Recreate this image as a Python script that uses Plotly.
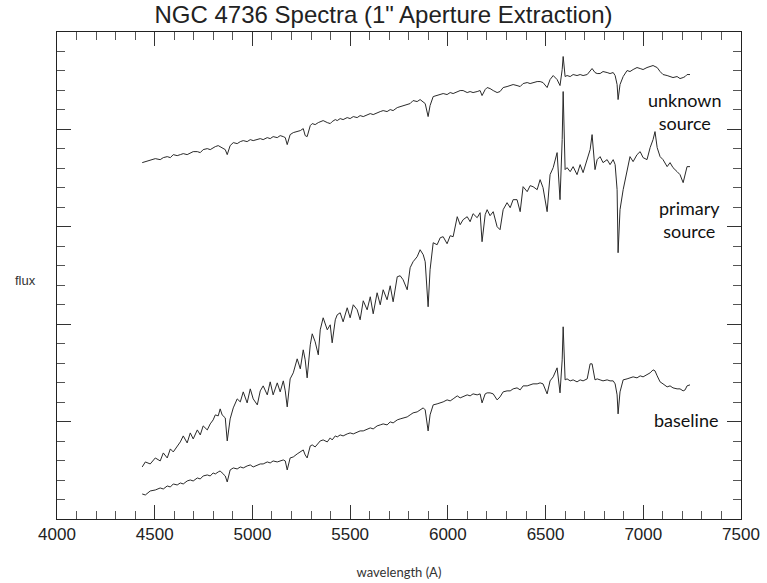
import plotly.graph_objects as go

# Wavelength grid (Angstrom)
wavelength = [
    4436, 4452, 4477, 4503, 4528, 4544, 4564, 4580, 4595, 4615,
    4631, 4646, 4666, 4682, 4697, 4718, 4733, 4748, 4769, 4784,
    4799, 4810, 4825, 4835, 4845, 4861, 4871, 4886, 4902, 4922,
    4938, 4953, 4973, 4989, 5004, 5025, 5040, 5055, 5076, 5091,
    5106, 5127, 5142, 5158, 5168, 5178, 5193, 5209, 5229, 5245,
    5260, 5270, 5280, 5296, 5306, 5321, 5337, 5347, 5362, 5383,
    5398, 5408, 5424, 5434, 5449, 5464, 5485, 5500, 5516, 5536,
    5551, 5567, 5587, 5603, 5618, 5638, 5654, 5669, 5689, 5705,
    5720, 5741, 5756, 5771, 5792, 5807, 5822, 5843, 5858, 5874,
    5884, 5899, 5909, 5925, 5945, 5961, 5976, 5996, 6012, 6027,
    6048, 6063, 6078, 6099, 6114, 6129, 6150, 6165, 6175, 6191,
    6201, 6216, 6232, 6252, 6267, 6283, 6303, 6319, 6334, 6354,
    6370, 6385, 6406, 6421, 6436, 6457, 6472, 6487, 6508, 6523,
    6539, 6559, 6574, 6585, 6590, 6600, 6610, 6626, 6641, 6661,
    6677, 6692, 6713, 6728, 6738, 6753, 6764, 6779, 6794, 6815,
    6830, 6846, 6856, 6866, 6871, 6881, 6897, 6917, 6932, 6948,
    6968, 6984, 6999, 7019, 7035, 7050, 7060, 7071, 7086, 7101,
    7122, 7137, 7152, 7173, 7188, 7204, 7214, 7224, 7239,
]

# Flux (arbitrary units, offset spectra)
flux_baseline = [
    25, 24, 28, 29, 31, 30, 33, 32, 35, 34,
    36, 35, 38, 39, 38, 41, 40, 43, 44, 43,
    46, 45, 47, 48, 46, 43, 37, 49, 51, 50,
    52, 51, 53, 54, 52, 54, 55, 55, 57, 56,
    58, 57, 58, 59, 58, 49, 61, 62, 65, 67,
    69, 64, 61, 73, 74, 72, 76, 78, 79, 77,
    81, 79, 83, 82, 84, 83, 85, 86, 85, 87,
    88, 88, 90, 91, 90, 93, 94, 95, 94, 97,
    96, 99, 100, 101, 102, 104, 106, 107, 109, 111,
    109, 88, 104, 114, 115, 116, 117, 119, 118, 120,
    123, 121, 122, 124, 123, 125, 124, 125, 116, 125,
    126, 126, 125, 119, 122, 127, 128, 128, 130, 131,
    129, 133, 133, 134, 135, 135, 136, 135, 125, 138,
    142, 151, 126, 159, 192, 139, 140, 138, 139, 137,
    139, 138, 140, 155, 155, 139, 140, 139, 138, 139,
    138, 138, 135, 124, 105, 127, 139, 140, 141, 142,
    141, 143, 142, 144, 146, 149, 148, 143, 137, 135,
    132, 133, 131, 130, 130, 128, 129, 133, 134,
]

flux_primary = [
    52, 57, 55, 61, 58, 66, 61, 70, 67, 73,
    77, 83, 76, 86, 80, 89, 84, 93, 89, 95,
    99, 104, 103, 110, 104, 101, 78, 100, 111, 120,
    117, 127, 116, 130, 120, 114, 128, 133, 124, 137,
    124, 136, 127, 138, 128, 112, 140, 146, 160, 150,
    169, 159, 141, 174, 185, 177, 164, 189, 201, 189,
    194, 176, 199, 204, 206, 197, 211, 201, 214, 209,
    199, 218, 209, 222, 205, 226, 214, 229, 219, 233,
    217, 242, 243, 239, 229, 251, 257, 262, 269, 264,
    257, 212, 249, 276, 274, 281, 282, 275, 283, 282,
    302, 294, 299, 302, 297, 305, 301, 306, 277, 304,
    309, 303, 307, 292, 289, 309, 316, 311, 319, 319,
    307, 332, 327, 333, 332, 329, 339, 331, 307, 344,
    351, 366, 319, 379, 427, 349, 351, 347, 352, 344,
    354, 346, 359, 369, 384, 349, 359, 362, 356, 359,
    354, 359, 354, 329, 266, 309, 329, 349, 362, 357,
    364, 367, 361, 359, 371, 379, 387, 371, 362, 359,
    352, 356, 351, 347, 344, 336, 344, 352, 352,
]

flux_unknown = [
    356, 357, 358, 360, 359, 361, 362, 361, 364, 363,
    364, 365, 364, 366, 367, 367, 366, 369, 370, 369,
    371, 372, 373, 372, 371, 369, 364, 373, 376, 375,
    377, 378, 377, 379, 378, 379, 380, 379, 381, 380,
    382, 381, 383, 382, 381, 374, 384, 386, 387, 388,
    390, 383, 382, 393, 395, 394, 396, 397, 398, 396,
    395, 397, 399, 398, 400, 399, 401, 400, 402, 401,
    403, 402, 404, 405, 404, 406, 407, 408, 407, 409,
    408, 411, 412, 413, 414, 415, 418, 417, 419, 417,
    415, 402, 413, 422, 423, 424, 425, 424, 426, 425,
    427, 428, 428, 426, 427, 426, 427, 428, 423, 429,
    431, 430, 428, 426, 427, 431, 432, 433, 434, 433,
    432, 435, 436, 435, 436, 437, 437, 436, 431, 439,
    443, 439, 433, 449, 462, 442, 443, 442, 444, 443,
    444, 443, 444, 448, 450, 446, 445, 445, 447, 446,
    445, 446, 443, 434, 419, 434, 442, 448, 447, 449,
    451, 450, 449, 451, 452, 453, 452, 451, 447, 444,
    443, 442, 441, 442, 440, 441, 442, 444, 444,
]

series_names = ["unknown source", "primary source", "baseline"]
label_x = [7214, 7234, 7219]
label_y = [407, 299, 99]
x_ticks = [4000, 4500, 5000, 5500, 6000, 6500, 7000, 7500]

assert len(wavelength) == len(flux_baseline) == len(flux_primary) == len(flux_unknown)

fig = go.Figure()
for name, flux in zip(series_names, [flux_unknown, flux_primary, flux_baseline]):
    fig.add_trace(go.Scatter(x=wavelength, y=flux, mode="lines", name=name,
                             line=dict(color="#2a2a2a", width=1), showlegend=False))

label_text = ["unknown<br>source", "primary<br>source", "baseline"]
for t, x, y in zip(label_text, label_x, label_y):
    fig.add_annotation(x=x, y=y, text=t, showarrow=False, xanchor="center", yanchor="middle",
                       font=dict(family="Lato", size=18, color="#111"), bgcolor="rgba(0,0,0,0)")

fig.add_annotation(xref="paper", yref="paper", x=-0.028, y=0.49, text="flux", showarrow=False,
                   xanchor="right", yanchor="middle",
                   font=dict(family="Liberation Sans, Arial", size=13, color="#333"))

Y_TOP = 486.5
fig.update_layout(
    width=767, height=583,
    margin=dict(l=57, r=26, t=32, b=64, autoexpand=False),
    paper_bgcolor="white", plot_bgcolor="white",
    title=dict(text='NGC 4736 Spectra (1" Aperture Extraction)', x=0.5, xref="container",
               xanchor="center", y=1 - 15 / 583, yanchor="middle",
               font=dict(family="Liberation Sans, Arial", size=24, color="#222")),
    xaxis=dict(range=[4000, 7500], tickmode="array", tickvals=x_ticks,
               ticktext=[str(v) for v in x_ticks],
               ticks="inside", ticklen=14, tickwidth=1, tickcolor="#333",
               minor=dict(dtick=100, ticks="inside", ticklen=8, tickwidth=1, tickcolor="#555"),
               showline=True, linecolor="#222", linewidth=1, mirror="ticks",
               showgrid=False, zeroline=False, automargin=False,
               tickfont=dict(family="Liberation Sans, Arial", size=17, color="#222"),
               title=dict(text="wavelength (A)", standoff=24,
                          font=dict(family="Lato", size=13, color="#333"))),
    yaxis=dict(range=[0, Y_TOP], tick0=0, dtick=Y_TOP / 5,
               ticks="inside", ticklen=14, tickwidth=1, tickcolor="#333",
               minor=dict(dtick=Y_TOP / 25, ticks="inside", ticklen=8, tickwidth=1, tickcolor="#555"),
               showticklabels=False, automargin=False,
               showline=True, linecolor="#222", linewidth=1, mirror="ticks",
               showgrid=False, zeroline=False),
)

fig.write_html("out.html")
